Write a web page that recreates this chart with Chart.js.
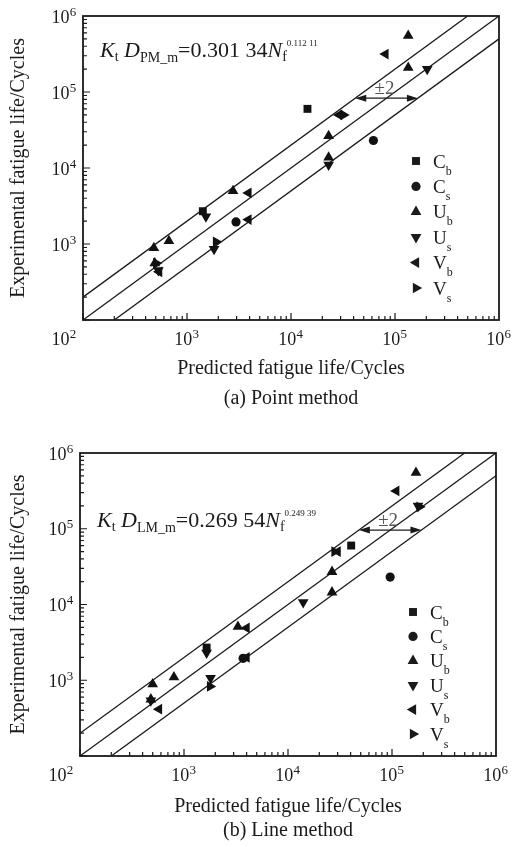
<!DOCTYPE html>
<html>
<head>
<meta charset="utf-8">
<script src="https://cdn.jsdelivr.net/npm/chart.js@4.4.0/dist/chart.umd.min.js"></script>
<style>
body { margin: 0; background: #fff; width: 514px; height: 847px; overflow: hidden; position: relative; }
canvas { position: absolute; left: 0; }
</style>
</head>
<body>
<canvas id="pm" width="514" height="420" style="top:0"></canvas>
<canvas id="lm" width="514" height="427" style="top:420px"></canvas>
<script>
// legend entries
const seriesNames = ['C', 'C', 'U', 'U', 'V', 'V'];
const seriesSubs = ['b', 's', 'b', 's', 'b', 's'];

// (a) point method: [predicted, experimental]
const pmCb = [[1420, 2700], [14400, 60000]];
const pmCs = [[2960, 1950], [62000, 23000]];
const pmUb = [[480, 890], [670, 1100], [490, 560], [2770, 5000], [23000, 26500], [23000, 13800], [134000, 209000], [134000, 550000]];
const pmUs = [[1520, 2300], [1820, 860], [530, 450], [23000, 11000], [204000, 200000]];
const pmVb = [[3900, 4700], [3900, 2100], [540, 430], [29000, 50000], [81000, 316000]];
const pmVs = [[1900, 1070], [505, 560], [32000, 50000]];

// (b) line method
const lmCb = [[1650, 2700], [40500, 60000]];
const lmCs = [[3700, 1950], [96000, 23000]];
const lmUb = [[500, 890], [800, 1100], [480, 560], [3300, 5100], [26500, 27000], [26500, 14500], [170000, 550000]];
const lmUs = [[1650, 2300], [1800, 1070], [480, 540], [14000, 10700], [178000, 200000]];
const lmVb = [[4000, 4900], [4000, 2000], [575, 415], [30000, 50000], [110000, 316000]];
const lmVs = [[1780, 830], [28000, 50000], [184000, 195000]];

// scatter band: y = x, y = 2x, y = x/2
const bandMid = [[100, 100], [1e6, 1e6]];
const bandUp = [[100, 200], [5e5, 1e6]];
const bandLow = [[200, 100], [1e6, 5e5]];

// height of the "±2" arrow, experimental cycles
const arrowLevels = [83000, 96000];

const FONT = '"Liberation Serif", "Times New Roman", serif';
const INK = '#1a1a1a';
const styles = ['rect', 'circle', 'triangle', 'triangle', 'triangle', 'triangle'];
const rots = [0, 0, 0, 180, 270, 90];
const sizes = [5.6, 4.6, 6.2, 6.2, 6.2, 6.2];

const pts = arr => arr.map(p => ({ x: p[0], y: p[1] }));

function drawMarker(ctx, i, x, y) {
  const r = sizes[i];
  ctx.beginPath();
  if (styles[i] === 'rect') {
    const s = r * Math.SQRT1_2;
    ctx.rect(x - s, y - s, 2 * s, 2 * s);
  } else if (styles[i] === 'circle') {
    ctx.arc(x, y, r, 0, Math.PI * 2);
  } else {
    let a = rots[i] * Math.PI / 180;
    for (let k = 0; k < 3; k++) {
      const px = x + Math.sin(a) * r, py = y - Math.cos(a) * r;
      k ? ctx.lineTo(px, py) : ctx.moveTo(px, py);
      a += Math.PI * 2 / 3;
    }
    ctx.closePath();
  }
  ctx.fill();
}

// text runs: [text, font, dy]
function drawRuns(ctx, runs, x, base) {
  ctx.textAlign = 'left';
  ctx.textBaseline = 'alphabetic';
  for (const [t, f, dy] of runs) {
    ctx.font = f;
    ctx.fillText(t, x, base + (dy || 0));
    x += ctx.measureText(t).width;
  }
}

function pow10(ctx, e, x, base, align) {
  ctx.font = '18px ' + FONT;
  const w1 = ctx.measureText('10').width;
  ctx.font = '13px ' + FONT;
  const w2 = ctx.measureText(String(e)).width;
  const w = w1 + w2 + 1;
  const x0 = align === 'right' ? x - w : x - w / 2;
  drawRuns(ctx, [['10', '18px ' + FONT, 0], [' ', '1px ' + FONT, 0], [String(e), '13px ' + FONT, -7]], x0, base);
}

function makeDecor(cfg) {
  return {
    id: 'decor',
    afterDraw(chart) {
      const { ctx, chartArea: a, scales: { x: sx, y: sy } } = chart;
      ctx.save();
      ctx.fillStyle = INK;
      ctx.strokeStyle = INK;

      // frame and inward ticks
      ctx.lineWidth = 1.8;
      ctx.strokeRect(a.left, a.top, a.right - a.left, a.bottom - a.top);
      ctx.lineWidth = 1.2;
      ctx.beginPath();
      for (let e = 2; e < 6; e++) {
        for (let m = 1; m <= 9; m++) {
          const v = m * Math.pow(10, e);
          const len = m === 1 ? 7 : 4;
          const px = sx.getPixelForValue(v), py = sy.getPixelForValue(v);
          ctx.moveTo(px, a.bottom); ctx.lineTo(px, a.bottom - len);
          ctx.moveTo(a.left, py); ctx.lineTo(a.left + len, py);
        }
      }
      ctx.stroke();

      // tick labels
      for (let e = 3; e <= 6; e++) {
        pow10(ctx, e, sx.getPixelForValue(Math.pow(10, e)), a.bottom + 25, 'center');
        pow10(ctx, e, a.left - 6, sy.getPixelForValue(Math.pow(10, e)) + 6.5, 'right');
      }
      pow10(ctx, 2, a.left - 6, a.bottom + 25, 'right');

      // axis titles and caption
      ctx.textAlign = 'center';
      ctx.textBaseline = 'alphabetic';
      ctx.font = '20px ' + FONT;
      const cx = (a.left + a.right) / 2;
      ctx.fillText('Predicted fatigue life/Cycles', cx, a.bottom + cfg.titleGap);
      ctx.fillText(cfg.caption, cx, a.bottom + cfg.captionGap);
      ctx.save();
      ctx.translate(19, (a.top + a.bottom) / 2);
      ctx.rotate(-Math.PI / 2);
      ctx.textBaseline = 'middle';
      ctx.fillText('Experimental fatigue life/Cycles', 0, 0);
      ctx.restore();

      // fitted formula
      drawRuns(ctx, cfg.formula, a.left + 17, a.top + cfg.formulaY);

      // ±2 arrow between the outer lines
      const lv = cfg.arrowLevel;
      const ay = sy.getPixelForValue(lv);
      const x1 = sx.getPixelForValue(lv / 2), x2 = sx.getPixelForValue(lv * 2);
      ctx.lineWidth = 1.3;
      ctx.beginPath(); ctx.moveTo(x1 + 4, ay); ctx.lineTo(x2 - 4, ay); ctx.stroke();
      ctx.beginPath();
      ctx.moveTo(x1, ay); ctx.lineTo(x1 + 11, ay - 3.5); ctx.lineTo(x1 + 11, ay + 3.5); ctx.closePath();
      ctx.moveTo(x2, ay); ctx.lineTo(x2 - 11, ay - 3.5); ctx.lineTo(x2 - 11, ay + 3.5); ctx.closePath();
      ctx.fill();
      ctx.fillStyle = '#555';
      ctx.textAlign = 'center';
      ctx.font = '19px ' + FONT;
      ctx.fillText('±2', (x1 + x2) / 2 - 2, ay - 4);
      ctx.fillStyle = INK;

      // legend
      for (let i = 0; i < seriesNames.length; i++) {
        const ry = cfg.legendTop + i * cfg.legendStep;
        drawMarker(ctx, i, cfg.legendX, ry);
        drawRuns(ctx, [[seriesNames[i], '19px ' + FONT, 0], [seriesSubs[i], '12px ' + FONT, 7]], cfg.legendX + 17, ry + 6.5);
      }
      ctx.restore();
    }
  };
}

function makeChart(id, series, area, cfg) {
  const canvas = document.getElementById(id);
  const markerSets = series.map((s, i) => ({
    data: pts(s),
    pointStyle: styles[i],
    rotation: rots[i],
    pointRadius: sizes[i],
    backgroundColor: '#111',
    borderWidth: 0
  }));
  const lineSets = [bandMid, bandUp, bandLow].map(b => ({
    data: pts(b),
    showLine: true,
    borderColor: INK,
    borderWidth: 1.3,
    pointRadius: 0
  }));
  const axis = {
    type: 'logarithmic',
    min: 100,
    max: 1e6,
    grid: { display: false },
    border: { display: false },
    ticks: { display: false }
  };
  return new Chart(canvas, {
    type: 'scatter',
    data: { datasets: [...markerSets, ...lineSets] },
    options: {
      responsive: false,
      animation: false,
      events: [],
      layout: { padding: { top: area.top, right: canvas.width - area.right, left: 0, bottom: 0 } },
      scales: {
        x: { ...axis, afterFit: s => { s.height = canvas.height - area.bottom; } },
        y: { ...axis, afterFit: s => { s.width = area.left; } }
      },
      plugins: { legend: { display: false }, tooltip: { enabled: false } }
    },
    plugins: [makeDecor(cfg)]
  });
}

const main = '22px ' + FONT, ital = 'italic 22px ' + FONT, sub = '14px ' + FONT, sup = '9px ' + FONT;

makeChart('pm', [pmCb, pmCs, pmUb, pmUs, pmVb, pmVs],
  { left: 83, right: 499, top: 16, bottom: 320 },
  {
    caption: '(a) Point method', titleGap: 54, captionGap: 84,
    formula: [['K', ital], ['t', sub, 4], [' D', ital], ['PM_m', sub, 5], ['=0.301 34', main], ['N', ital], ['f', sub, 4], ['0.112 11', sup, -11]],
    formulaY: 41, arrowLevel: arrowLevels[0],
    legendX: 416, legendTop: 161, legendStep: 25.4
  });

makeChart('lm', [lmCb, lmCs, lmUb, lmUs, lmVb, lmVs],
  { left: 80, right: 496, top: 33, bottom: 336 },
  {
    caption: '(b) Line method', titleGap: 56, captionGap: 80,
    formula: [['K', ital], ['t', sub, 4], [' D', ital], ['LM_m', sub, 5], ['=0.269 54', main], ['N', ital], ['f', sub, 4], ['0.249 39', sup, -11]],
    formulaY: 74, arrowLevel: arrowLevels[1],
    legendX: 413, legendTop: 192, legendStep: 24.4
  });
</script>
</body>
</html>
